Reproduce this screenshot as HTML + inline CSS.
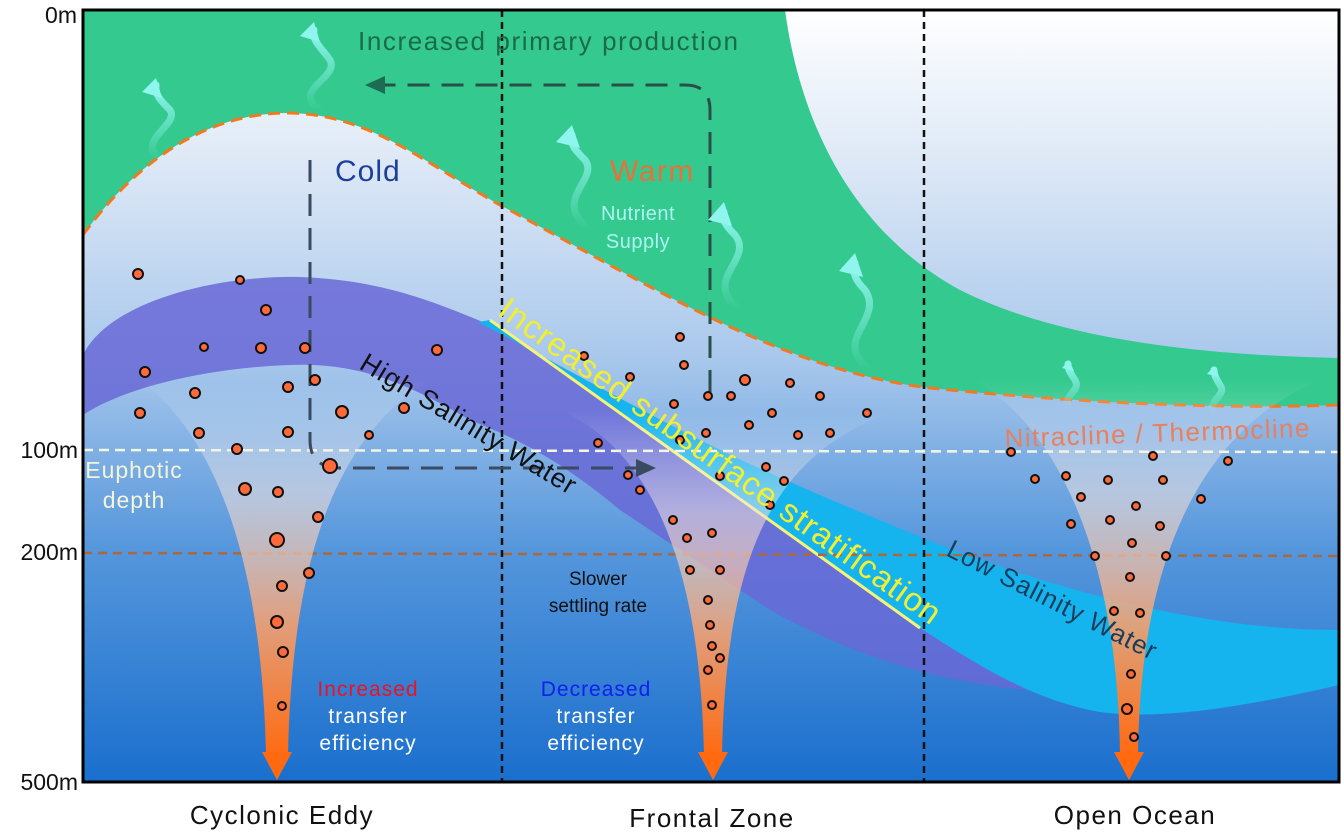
<!DOCTYPE html>
<html><head><meta charset="utf-8"><style>
html,body{margin:0;padding:0;background:#fff}
svg{display:block}
text{font-family:"Liberation Sans",Arial,sans-serif}
</style></head><body>
<svg width="1341" height="832" viewBox="0 0 1341 832" xmlns="http://www.w3.org/2000/svg">
<defs>
<linearGradient id="bg" x1="0" y1="0" x2="0" y2="1">
<stop offset="0" stop-color="#ffffff"/>
<stop offset="0.2" stop-color="#dde8f6"/>
<stop offset="0.45" stop-color="#a9c8ec"/>
<stop offset="0.7" stop-color="#5596dc"/>
<stop offset="1" stop-color="#1a6fcd"/>
</linearGradient>
<linearGradient id="fun" x1="0" y1="0" x2="0" y2="1">
<stop offset="0" stop-color="#ffffff" stop-opacity="0"/>
<stop offset="0.3" stop-color="#f1e3e0" stop-opacity="0.55"/>
<stop offset="0.65" stop-color="#f3a070" stop-opacity="0.9"/>
<stop offset="1" stop-color="#ff6a10"/>
</linearGradient>
<linearGradient id="wv" x1="0" y1="1" x2="0" y2="0">
<stop offset="0" stop-color="#8ff5ee" stop-opacity="0"/>
<stop offset="1" stop-color="#8ff5ee"/>
</linearGradient>
</defs>
<rect x="83" y="10" width="1256" height="772" fill="url(#bg)"/>
<!-- green band -->
<path d="M83,10 L785,10 C800,120 850,230 960,290 C1060,340 1200,355 1339,358 L1339,405 C1200,410 1050,400 930,388 C780,370 650,285 500,205 C420,160 370,115 290,113 C200,112 130,170 83,235 Z" fill="#34c98f"/>
<path d="M83,235 C130,170 200,112 290,113 C370,115 420,160 500,205 C650,285 780,370 930,388 C1050,400 1200,410 1339,405" fill="none" stroke="#f07a20" stroke-width="3" stroke-dasharray="12,7"/>
<!-- purple band -->
<path d="M83,355 C110,300 220,275 300,277 C380,280 430,300 490,325 L924,600 C980,630 1030,660 1070,692 C960,690 860,660 770,610 L620,510 C560,460 520,440 470,420 C410,385 360,362 290,365 C200,368 120,390 83,415 Z" fill="#6868d6" fill-opacity="0.85"/>
<!-- cyan band -->
<path d="M478,322 C560,365 630,405 700,440 C770,475 850,508 940,545 C1060,590 1200,630 1339,630 L1339,685 C1240,708 1160,720 1100,712 C1030,700 970,660 920,628 L490,320 Z" fill="#16b4ef"/>
<path d="M490,320 L920,628" stroke="#f4f47a" stroke-width="3"/>
<!-- lines -->
<line x1="83" y1="450" x2="1339" y2="452" stroke="#f3f6e0" stroke-width="2.5" stroke-dasharray="10,6"/>
<line x1="83" y1="553" x2="1339" y2="556" stroke="#a9693f" stroke-width="2.5" stroke-dasharray="9,6"/>
<line x1="502" y1="10" x2="502" y2="782" stroke="#111" stroke-width="2.5" stroke-dasharray="7,5"/>
<line x1="924" y1="10" x2="924" y2="782" stroke="#111" stroke-width="2.5" stroke-dasharray="7,5"/>
<!-- funnels -->
<path d="M140,380 C220,440 262,570 266,755 L288,755 C292,570 330,440 430,380 Z" fill="url(#fun)"/>
<path d="M262,752 L292,752 L277,780 Z" fill="#ff6a10"/>
<path d="M560,410 C650,450 700,560 704,755 L722,755 C726,560 770,450 900,410 Z" fill="url(#fun)"/>
<path d="M698,752 L728,752 L713,780 Z" fill="#ff6a10"/>
<path d="M975,380 C1060,430 1118,560 1120,755 L1138,755 C1140,560 1200,430 1320,380 Z" fill="url(#fun)"/>
<path d="M1114,752 L1144,752 L1129,780 Z" fill="#ff6a10"/>
<!-- dashed arrows -->
<path d="M710,392 L710,110 Q710,85 685,85 L380,85" fill="none" stroke="#2a4e4a" stroke-width="3" stroke-dasharray="22,12"/>
<path d="M385,76 L365,85 L385,94 Z" fill="#1d6b52"/>
<path d="M310,160 L310,440 Q310,468 340,468 L640,468" fill="none" stroke="#3a4a60" stroke-width="3" stroke-dasharray="22,12"/>
<path d="M636,459 L656,468 L636,477 Z" fill="#3a4a60"/>
<!-- wavy arrows -->
<g fill="none" stroke="url(#wv)" stroke-width="7" stroke-linecap="round">
<path d="M160,160 C135,140 180,125 170,110 C160,100 155,95 156,85"/>
<path d="M320,110 C290,90 340,78 330,60 C322,48 312,42 314,30"/>
<path d="M590,230 C550,200 600,180 585,160 C575,150 570,145 572,135"/>
<path d="M740,310 C700,280 755,260 735,235 C725,225 722,220 724,212"/>
<path d="M870,370 C830,340 885,320 865,290 C855,280 852,272 855,263"/>
<path d="M1070,410 C1060,395 1082,392 1075,380 C1070,372 1068,370 1068,364"/>
<path d="M1215,415 C1205,400 1228,396 1220,385 C1215,377 1214,374 1214,370"/>
</g>
<g fill="#8ff5ee">
<path d="M142,92 L156,78 L162,98 Z"/><path d="M300,36 L314,22 L320,42 Z"/>
<path d="M556,142 L572,125 L580,148 Z"/><path d="M708,220 L724,202 L732,226 Z"/>
<path d="M839,271 L855,253 L863,277 Z"/><path d="M1062,368 L1069,360 L1074,371 Z"/>
<path d="M1207,374 L1214,366 L1219,377 Z"/>
</g>
<!-- dots -->
<g fill="#ff6a3a" stroke="#111" stroke-width="2">
<circle cx="138" cy="274" r="5"/><circle cx="240" cy="280" r="4"/><circle cx="266" cy="310" r="5"/>
<circle cx="145" cy="372" r="5"/><circle cx="204" cy="347" r="4"/><circle cx="261" cy="348" r="5"/><circle cx="305" cy="348" r="5"/>
<circle cx="140" cy="413" r="5"/><circle cx="195" cy="393" r="5"/><circle cx="288" cy="387" r="5"/><circle cx="315" cy="380" r="5"/><circle cx="342" cy="412" r="6"/><circle cx="404" cy="408" r="5"/><circle cx="437" cy="350" r="5"/>
<circle cx="199" cy="433" r="5"/><circle cx="237" cy="449" r="5"/><circle cx="288" cy="432" r="5"/><circle cx="369" cy="435" r="4"/><circle cx="330" cy="466" r="7"/>
<circle cx="245" cy="489" r="6"/><circle cx="278" cy="492" r="5"/><circle cx="318" cy="517" r="5"/><circle cx="277" cy="540" r="7"/>
<circle cx="282" cy="586" r="5"/><circle cx="309" cy="573" r="5"/><circle cx="277" cy="622" r="6"/><circle cx="283" cy="652" r="5"/><circle cx="282" cy="706" r="4"/>
<circle cx="584" cy="356" r="4"/><circle cx="630" cy="377" r="4"/><circle cx="680" cy="337" r="4"/><circle cx="684" cy="365" r="4"/><circle cx="674" cy="404" r="4"/><circle cx="708" cy="396" r="4"/><circle cx="731" cy="396" r="4"/><circle cx="745" cy="380" r="5"/><circle cx="749" cy="425" r="4"/><circle cx="772" cy="413" r="4"/><circle cx="790" cy="383" r="4"/><circle cx="798" cy="435" r="4"/><circle cx="820" cy="396" r="4"/><circle cx="830" cy="433" r="4"/><circle cx="867" cy="413" r="4"/>
<circle cx="598" cy="443" r="4"/><circle cx="680" cy="440" r="4"/><circle cx="706" cy="433" r="4"/><circle cx="628" cy="475" r="4"/><circle cx="640" cy="490" r="4"/><circle cx="720" cy="476" r="4"/><circle cx="766" cy="467" r="4"/><circle cx="784" cy="481" r="4"/><circle cx="770" cy="505" r="4"/><circle cx="673" cy="520" r="4"/><circle cx="687" cy="538" r="4"/><circle cx="712" cy="533" r="4"/><circle cx="690" cy="570" r="4"/><circle cx="720" cy="570" r="4"/><circle cx="708" cy="600" r="4"/><circle cx="710" cy="625" r="4"/><circle cx="712" cy="646" r="4"/><circle cx="708" cy="670" r="4"/><circle cx="720" cy="658" r="4"/><circle cx="712" cy="705" r="4"/>
<circle cx="1011" cy="452" r="4"/><circle cx="1035" cy="479" r="4"/><circle cx="1066" cy="476" r="4"/><circle cx="1108" cy="480" r="4"/><circle cx="1163" cy="480" r="4"/><circle cx="1153" cy="456" r="4"/><circle cx="1228" cy="461" r="4"/><circle cx="1081" cy="497" r="4"/><circle cx="1136" cy="506" r="4"/><circle cx="1201" cy="499" r="4"/><circle cx="1071" cy="524" r="4"/><circle cx="1110" cy="520" r="4"/><circle cx="1160" cy="526" r="4"/><circle cx="1132" cy="543" r="4"/><circle cx="1095" cy="556" r="4"/><circle cx="1166" cy="556" r="4"/><circle cx="1130" cy="577" r="4"/><circle cx="1114" cy="611" r="4"/><circle cx="1140" cy="613" r="4"/><circle cx="1131" cy="674" r="4"/><circle cx="1127" cy="709" r="5"/><circle cx="1134" cy="737" r="4"/>
</g>
<!-- border -->
<rect x="83" y="10" width="1256" height="772" fill="none" stroke="#000" stroke-width="3"/>
<!-- labels -->
<g font-size="23" fill="#111">
<text x="77" y="23" text-anchor="end">0m</text>
<text x="78" y="458" text-anchor="end">100m</text>
<text x="78" y="560" text-anchor="end">200m</text>
<text x="78" y="790" text-anchor="end">500m</text>
<text x="282" y="824" text-anchor="middle" font-size="26" letter-spacing="1.5">Cyclonic Eddy</text>
<text x="712" y="827" text-anchor="middle" font-size="26" letter-spacing="1.5">Frontal Zone</text>
<text x="1135" y="824" text-anchor="middle" font-size="26" letter-spacing="1.5">Open Ocean</text>
</g>
<text x="358" y="50" font-size="26" fill="#1a6b4a" letter-spacing="1.6">Increased primary production</text>
<text x="335" y="181" font-size="30" fill="#1c3f9a" letter-spacing="1">Cold</text>
<text x="610" y="181" font-size="30" fill="#e8703a" letter-spacing="1.5">Warm</text>
<text x="638" y="220" font-size="20" fill="#aef5f0" text-anchor="middle" letter-spacing="0.5">Nutrient</text>
<text x="638" y="248" font-size="20" fill="#aef5f0" text-anchor="middle" letter-spacing="0.5">Supply</text>
<text x="1158" y="442" font-size="26" fill="#e8805c" text-anchor="middle" letter-spacing="1.4" transform="rotate(-2 1158 442)">Nitracline / Thermocline</text>
<text x="134" y="478" font-size="23" fill="#f4f4d8" text-anchor="middle" letter-spacing="1">Euphotic</text>
<text x="134" y="508" font-size="23" fill="#f4f4d8" text-anchor="middle" letter-spacing="1">depth</text>
<text x="0" y="0" font-size="27" fill="#111" letter-spacing="1" transform="translate(358,368) rotate(31)">High Salinity Water</text>
<text x="0" y="-7" font-size="33" fill="#f0f030" letter-spacing="1" transform="translate(492,320) rotate(35.6)">Increased subsurface stratification</text>
<text x="0" y="0" font-size="26" fill="#163e5a" letter-spacing="1" transform="translate(945,555) rotate(27)">Low Salinity Water</text>
<text x="598" y="585" font-size="19" fill="#111" text-anchor="middle">Slower</text>
<text x="598" y="612" font-size="19" fill="#111" text-anchor="middle">settling rate</text>
<text x="368" y="696" font-size="21" fill="#ee1122" text-anchor="middle" letter-spacing="1">Increased</text>
<text x="368" y="723" font-size="21" fill="#fff" text-anchor="middle" letter-spacing="1">transfer</text>
<text x="368" y="750" font-size="21" fill="#fff" text-anchor="middle" letter-spacing="1">efficiency</text>
<text x="596" y="696" font-size="21" fill="#1020ee" text-anchor="middle" letter-spacing="1">Decreased</text>
<text x="596" y="723" font-size="21" fill="#fff" text-anchor="middle" letter-spacing="1">transfer</text>
<text x="596" y="750" font-size="21" fill="#fff" text-anchor="middle" letter-spacing="1">efficiency</text>
</svg>
</body></html>
